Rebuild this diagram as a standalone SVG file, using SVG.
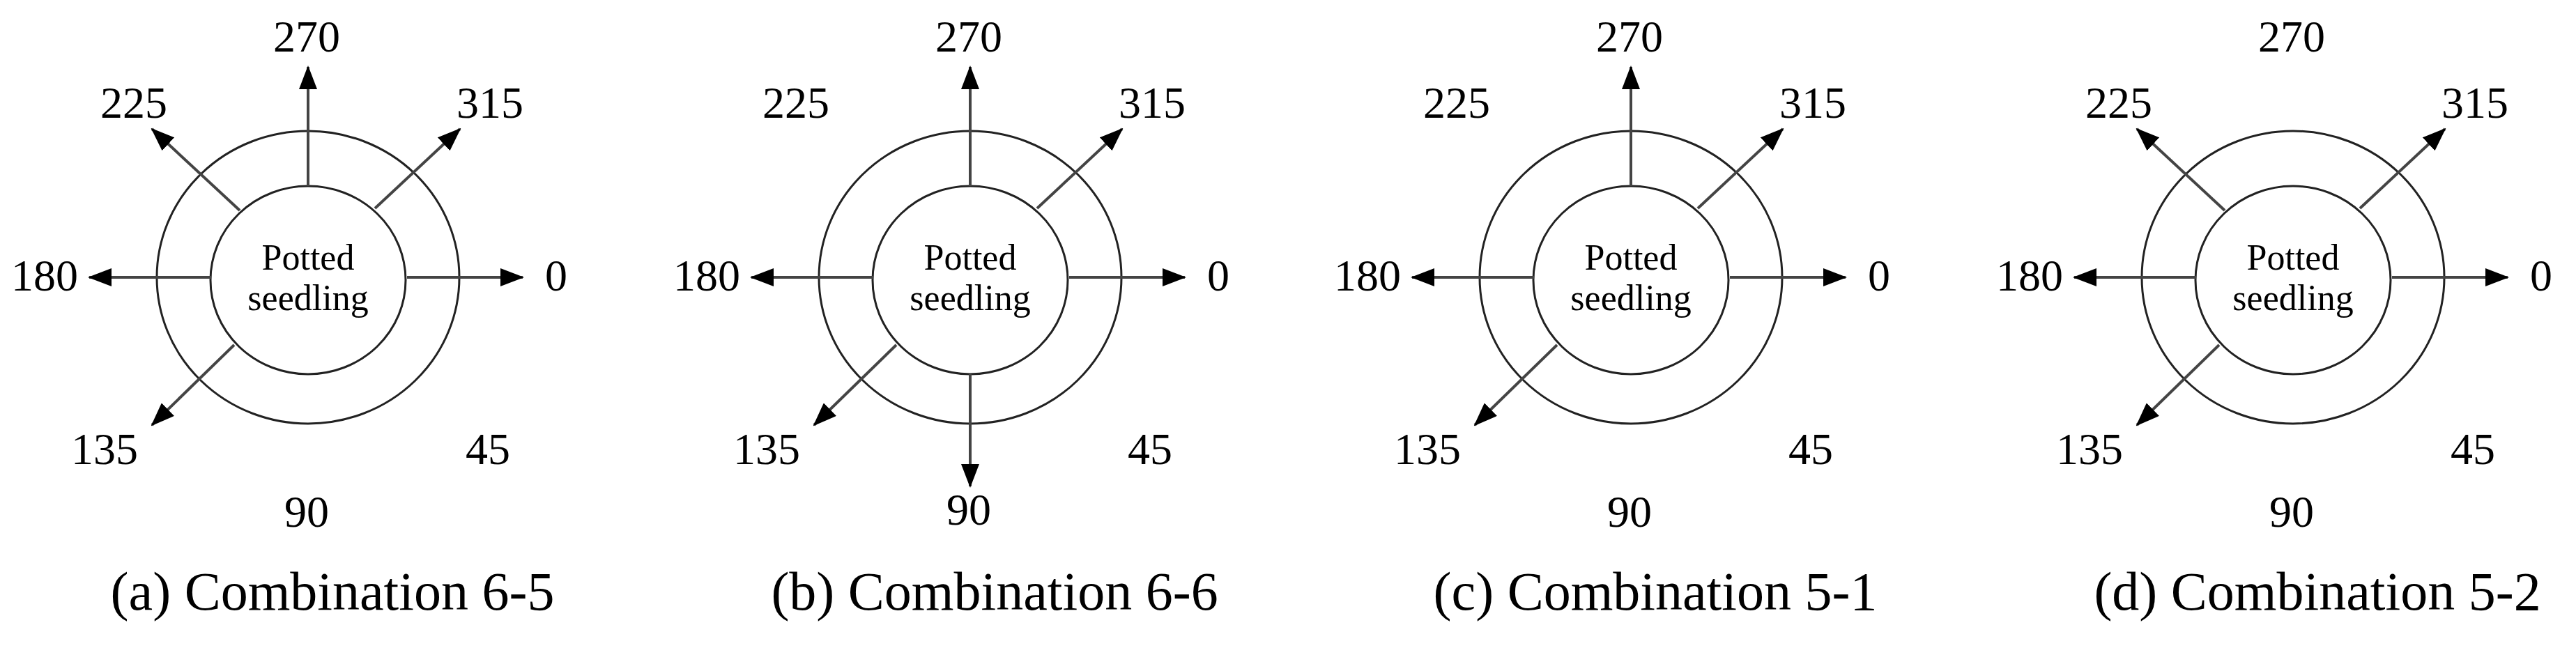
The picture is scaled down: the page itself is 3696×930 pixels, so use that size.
<svg xmlns="http://www.w3.org/2000/svg" width="3696" height="930" viewBox="0 0 3696 930">
<defs>
<style>
.ring{fill:none;stroke:#222;stroke-width:3}
.ar{stroke:#444;stroke-width:4;marker-end:url(#ah)}
text{font-family:"Liberation Serif","Times New Roman",serif;fill:#000;text-anchor:middle}
.lb{font-size:64px}
.ps{font-size:52px}
.cap{font-size:78px}
</style>
<marker id="ah" markerUnits="userSpaceOnUse" markerWidth="34" markerHeight="26" refX="32" refY="13" orient="auto">
<path d="M0,0 L34,13 L0,26 Z" fill="#000"/>
</marker>
</defs>
<rect width="3696" height="930" fill="#fff"/>

<g id="panel-a" transform="translate(442,398)">
<ellipse class="ring" cx="0" cy="0" rx="217" ry="210"/>
<ellipse class="ring" cx="0" cy="4" rx="140" ry="135"/>
<text class="ps" x="0" y="-11">Potted</text><text class="ps" x="0" y="47">seedling</text>
<text class="lb" x="-2" y="-324">270</text><text class="lb" x="-250" y="-229">225</text><text class="lb" x="261" y="-229">315</text>
<text class="lb" x="-378" y="19">180</text><text class="lb" x="356" y="19">0</text>
<text class="lb" x="-292" y="268">135</text><text class="lb" x="258" y="268">45</text><text class="lb" x="-2" y="358">90</text>
<text class="cap" x="35" y="477">(a) Combination 6-5</text>
</g>
<g id="panel-b" transform="translate(1392,398)">
<ellipse class="ring" cx="0" cy="0" rx="217" ry="210"/>
<ellipse class="ring" cx="0" cy="4" rx="140" ry="135"/>
<text class="ps" x="0" y="-11">Potted</text><text class="ps" x="0" y="47">seedling</text>
<text class="lb" x="-2" y="-324">270</text><text class="lb" x="-250" y="-229">225</text><text class="lb" x="261" y="-229">315</text>
<text class="lb" x="-378" y="19">180</text><text class="lb" x="356" y="19">0</text>
<text class="lb" x="-292" y="268">135</text><text class="lb" x="258" y="268">45</text><text class="lb" x="-2" y="355">90</text>
<text class="cap" x="35" y="477">(b) Combination 6-6</text>
</g>
<g id="panel-c" transform="translate(2340,398)">
<ellipse class="ring" cx="0" cy="0" rx="217" ry="210"/>
<ellipse class="ring" cx="0" cy="4" rx="140" ry="135"/>
<text class="ps" x="0" y="-11">Potted</text><text class="ps" x="0" y="47">seedling</text>
<text class="lb" x="-2" y="-324">270</text><text class="lb" x="-250" y="-229">225</text><text class="lb" x="261" y="-229">315</text>
<text class="lb" x="-378" y="19">180</text><text class="lb" x="356" y="19">0</text>
<text class="lb" x="-292" y="268">135</text><text class="lb" x="258" y="268">45</text><text class="lb" x="-2" y="358">90</text>
<text class="cap" x="35" y="477">(c) Combination 5-1</text>
</g>
<g id="panel-d" transform="translate(3290,398)">
<ellipse class="ring" cx="0" cy="0" rx="217" ry="210"/>
<ellipse class="ring" cx="0" cy="4" rx="140" ry="135"/>
<text class="ps" x="0" y="-11">Potted</text><text class="ps" x="0" y="47">seedling</text>
<text class="lb" x="-2" y="-324">270</text><text class="lb" x="-250" y="-229">225</text><text class="lb" x="261" y="-229">315</text>
<text class="lb" x="-378" y="19">180</text><text class="lb" x="356" y="19">0</text>
<text class="lb" x="-292" y="268">135</text><text class="lb" x="258" y="268">45</text><text class="lb" x="-2" y="358">90</text>
<text class="cap" x="35" y="477">(d) Combination 5-2</text>
</g>

<g id="connectors">
<g transform="translate(442,398)">
<line class="ar" x1="0" y1="-131" x2="0" y2="-302"/>
<line class="ar" x1="142" y1="0" x2="308" y2="0"/>
<line class="ar" x1="-139" y1="0" x2="-314" y2="0"/>
<line class="ar" x1="-98" y1="-96" x2="-224" y2="-213"/>
<line class="ar" x1="96" y1="-99" x2="218" y2="-213"/>
<line class="ar" x1="-106" y1="97" x2="-224" y2="212"/>
</g>
<g transform="translate(1392,398)">
<line class="ar" x1="0" y1="-131" x2="0" y2="-302"/>
<line class="ar" x1="142" y1="0" x2="308" y2="0"/>
<line class="ar" x1="-139" y1="0" x2="-314" y2="0"/>
<line class="ar" x1="96" y1="-99" x2="218" y2="-213"/>
<line class="ar" x1="-106" y1="97" x2="-224" y2="212"/>
<line class="ar" x1="0" y1="139" x2="0" y2="300"/>
</g>
<g transform="translate(2340,398)">
<line class="ar" x1="0" y1="-131" x2="0" y2="-302"/>
<line class="ar" x1="142" y1="0" x2="308" y2="0"/>
<line class="ar" x1="-139" y1="0" x2="-314" y2="0"/>
<line class="ar" x1="96" y1="-99" x2="218" y2="-213"/>
<line class="ar" x1="-106" y1="97" x2="-224" y2="212"/>
</g>
<g transform="translate(3290,398)">
<line class="ar" x1="142" y1="0" x2="308" y2="0"/>
<line class="ar" x1="-139" y1="0" x2="-314" y2="0"/>
<line class="ar" x1="-98" y1="-96" x2="-224" y2="-213"/>
<line class="ar" x1="96" y1="-99" x2="218" y2="-213"/>
<line class="ar" x1="-106" y1="97" x2="-224" y2="212"/>
</g>
</g>
</svg>
